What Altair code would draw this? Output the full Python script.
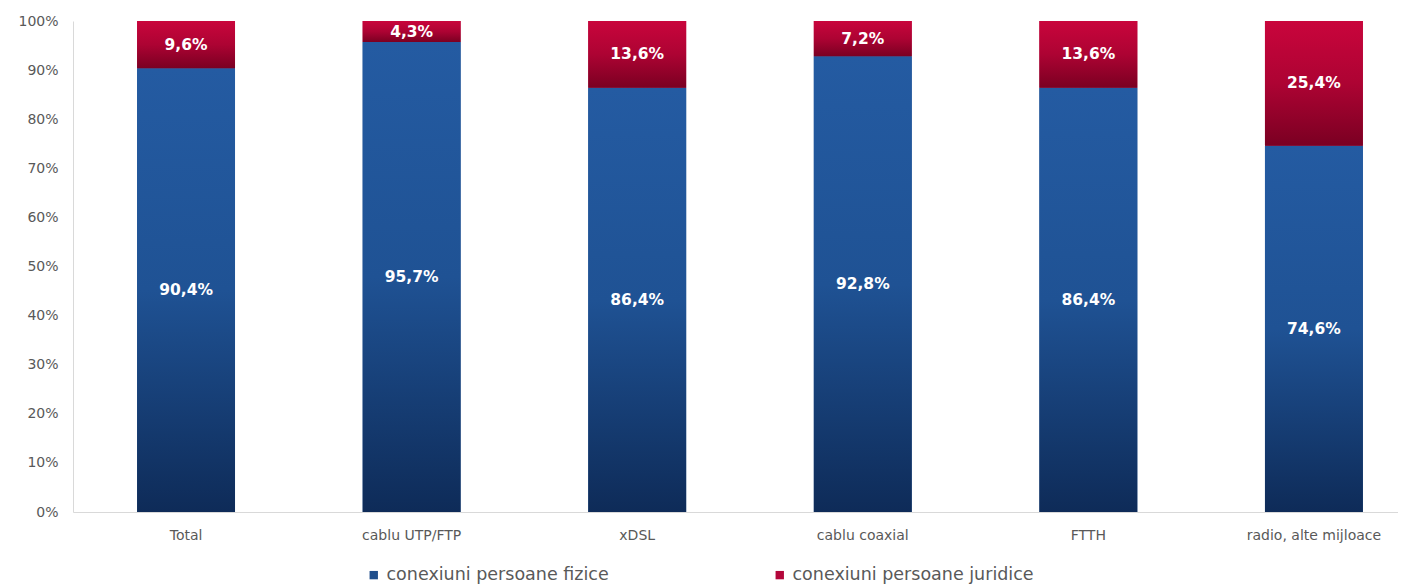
import altair as alt
import pandas as pd

categories = ["Total", "cablu UTP/FTP", "xDSL", "cablu coaxial", "FTTH", "radio, alte mijloace"]
fizice = [90.4, 95.7, 86.4, 92.8, 86.4, 74.6]
juridice = [9.6, 4.3, 13.6, 7.2, 13.6, 25.4]
series_names = ["conexiuni persoane fizice", "conexiuni persoane juridice"]

rows = []
for i, c in enumerate(categories):
    for s_i, (s, vals) in enumerate(zip(series_names, [fizice, juridice])):
        v = vals[i]
        rows.append({"category": c, "series": s, "order": s_i, "value": v,
                     "label": f"{v:.1f}%".replace(".", ",")})
df = pd.DataFrame(rows)

blue_grad = alt.LinearGradient(gradient="linear", x1=0, x2=0, y1=0, y2=1,
                               stops=[alt.GradientStop(color="#245ba2", offset=0),
                                      alt.GradientStop(color="#1f5294", offset=0.5),
                                      alt.GradientStop(color="#0e2b58", offset=1)])
red_grad = alt.LinearGradient(gradient="linear", x1=0, x2=0, y1=0, y2=1,
                              stops=[alt.GradientStop(color="#c9053c", offset=0),
                                     alt.GradientStop(color="#ad0333", offset=0.5),
                                     alt.GradientStop(color="#7a0022", offset=1)])

xscale = alt.Scale(domain=categories, paddingInner=0.566, paddingOuter=0.22, align=0.646)
yscale = alt.Scale(domain=[0, 100], nice=False)

base = alt.Chart(df).transform_stack(
    stack="value", groupby=["category"], as_=["y0", "y1"],
    sort=[alt.SortField("order", order="ascending")]
).transform_calculate(mid="(datum.y0 + datum.y1) / 2")

x_enc = alt.X("category:N", scale=xscale, sort=categories, title=None,
              axis=alt.Axis(labelAngle=0, ticks=False, labelPadding=16, labelFontSize=14,
                            labelColor="#595959", labelFont="DejaVu Sans",
                            domainColor="#d9d9d9", labelLimit=300))

legend_bars = base.mark_bar().encode(
    x=x_enc,
    y=alt.Y("y0:Q", scale=yscale, title=None,
            axis=alt.Axis(values=list(range(0, 101, 10)), labelExpr="datum.value + '%'",
                          ticks=False, grid=False, labelPadding=15, labelFontSize=14,
                          labelColor="#595959", labelFont="DejaVu Sans",
                          domainColor="#d9d9d9")),
    y2="y1:Q",
    color=alt.Color("series:N", scale=alt.Scale(domain=series_names, range=["#1f4e8c", "#b3063a"]),
                    legend=alt.Legend(title=None, orient="none", direction="horizontal",
                                      legendX=292, legendY=545, symbolType="square",
                                      symbolSize=70, symbolStrokeWidth=0,
                                      labelFontSize=17.5, labelColor="#595959",
                                      labelFont="DejaVu Sans", columnPadding=162,
                                      labelOffset=4, labelLimit=400)),
)

blue_bars = base.transform_filter(alt.datum.order == 0).mark_bar(fill=blue_grad).encode(
    x=alt.X("category:N", scale=xscale, sort=categories), y=alt.Y("y0:Q", scale=yscale), y2="y1:Q")
red_bars = base.transform_filter(alt.datum.order == 1).mark_bar(fill=red_grad).encode(
    x=alt.X("category:N", scale=xscale, sort=categories), y=alt.Y("y0:Q", scale=yscale), y2="y1:Q")

labels = base.mark_text(color="white", fontWeight="bold", fontSize=15.5, font="DejaVu Sans",
                        baseline="middle").encode(
    x=alt.X("category:N", scale=xscale, sort=categories),
    y=alt.Y("mid:Q", scale=yscale),
    text="label:N",
)

chart = alt.layer(legend_bars, blue_bars, red_bars, labels).properties(
    width=1325, height=491,
    padding={"left": 9, "top": 6, "right": 0, "bottom": 0},
    background="white",
).configure_view(stroke=None)

chart.save("out.html", embed_options={"renderer": "svg", "actions": False})
